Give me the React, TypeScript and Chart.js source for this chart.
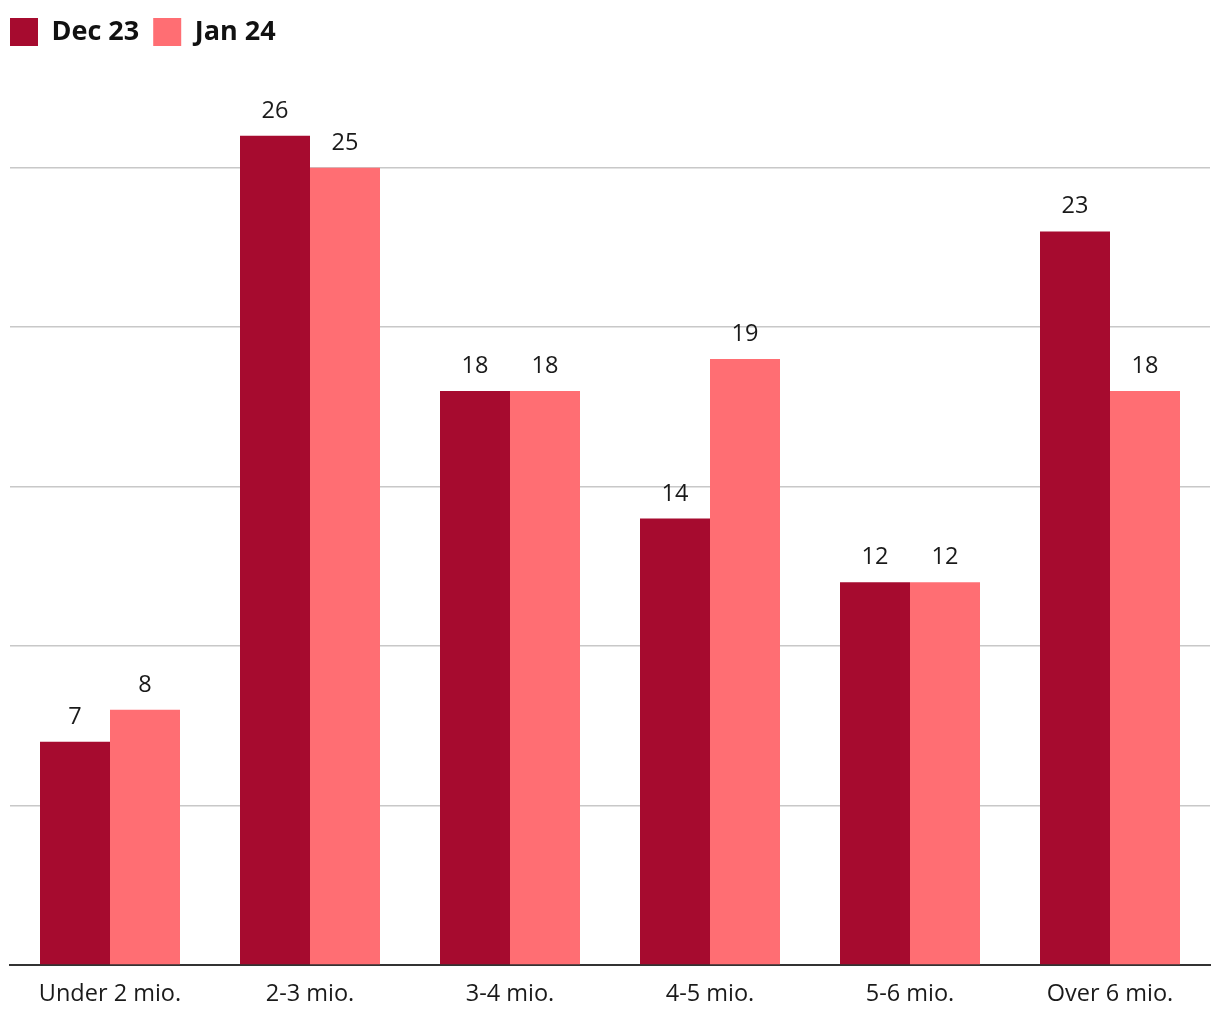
import React, { useEffect, useRef } from "react";
import { Chart, registerables } from "chart.js";

Chart.register(...registerables);

const categories = ["Under 2 mio.", "2-3 mio.", "3-4 mio.", "4-5 mio.", "5-6 mio.", "Over 6 mio."];
const seriesNames = ["Dec 23", "Jan 24"];
const dec23 = [7, 26, 18, 14, 12, 23];
const jan24 = [8, 25, 18, 19, 12, 18];
const yTicks = [0, 5, 10, 15, 20, 25];
const yMax = 28;

const FONT = "'Open Sans', 'Noto Sans', sans-serif";

export default function App() {
  const ref = useRef<HTMLCanvasElement | null>(null);

  useEffect(() => {
    if (!ref.current) return;

    const labelPlugin = {
      id: "valueLabels",
      afterInit(chart: any) {
        const lg = chart.legend;
        if (lg && !lg.__wrapped) {
          const orig = lg.fit.bind(lg);
          lg.fit = function () {
            orig();
            this.height = 68;
            this.minSize = { width: this.width, height: 68 };
          };
          lg.__wrapped = true;
        }
      },
      afterDatasetsDraw(chart: any) {
        const ctx = chart.ctx;
        ctx.save();
        ctx.font = `23.5px ${FONT}`;
        ctx.fillStyle = "#1a1a1a";
        ctx.textAlign = "center";
        ctx.textBaseline = "alphabetic";
        chart.data.datasets.forEach((ds: any, i: number) => {
          const meta = chart.getDatasetMeta(i);
          meta.data.forEach((bar: any, j: number) => {
            ctx.fillText(String(ds.data[j]), bar.x, bar.y - 18);
          });
        });
        ctx.restore();
      },
    };

    const chart = new Chart(ref.current, {
      type: "bar",
      data: {
        labels: categories,
        datasets: [
          { label: seriesNames[0], data: dec23, backgroundColor: "#a60b2f", borderWidth: 0 },
          { label: seriesNames[1], data: jan24, backgroundColor: "#ff6e73", borderWidth: 0 },
        ],
      },
      options: {
        animation: false,
        responsive: true,
        maintainAspectRatio: false,
        layout: { padding: { top: 4, left: -4, right: 10, bottom: 0 } },
        datasets: { bar: { categoryPercentage: 0.7, barPercentage: 1.0 } },
        plugins: {
          legend: {
            position: "top",
            align: "start",
            labels: {
              boxWidth: 28,
              boxHeight: 28,
              padding: 14,
              color: "#111",
              font: { family: FONT, size: 27, weight: "bold" },
            },
          },
          tooltip: { enabled: false },
        },
        scales: {
          x: {
            grid: { display: false, drawTicks: false },
            border: { display: true, color: "#333333", width: 2 },
            ticks: { color: "#1a1a1a", padding: 15, font: { family: FONT, size: 23.5 } },
            afterFit(s: any) {
              s.height = 55;
            },
          },
          y: {
            min: 0,
            max: yMax,
            afterBuildTicks(s: any) {
              s.ticks = yTicks.map((v) => ({ value: v }));
            },
            grid: { color: "#c8c8c8", lineWidth: 1.5, drawTicks: false },
            border: { display: false },
            ticks: { display: false },
            afterFit(s: any) {
              s.width = 14;
            },
          },
        },
      },
      plugins: [labelPlugin],
    } as any);

    return () => chart.destroy();
  }, []);

  return (
    <div style={{ position: "absolute", left: 0, top: 0, width: 1220, height: 1020, background: "#fff" }}>
      <canvas ref={ref} />
    </div>
  );
}
